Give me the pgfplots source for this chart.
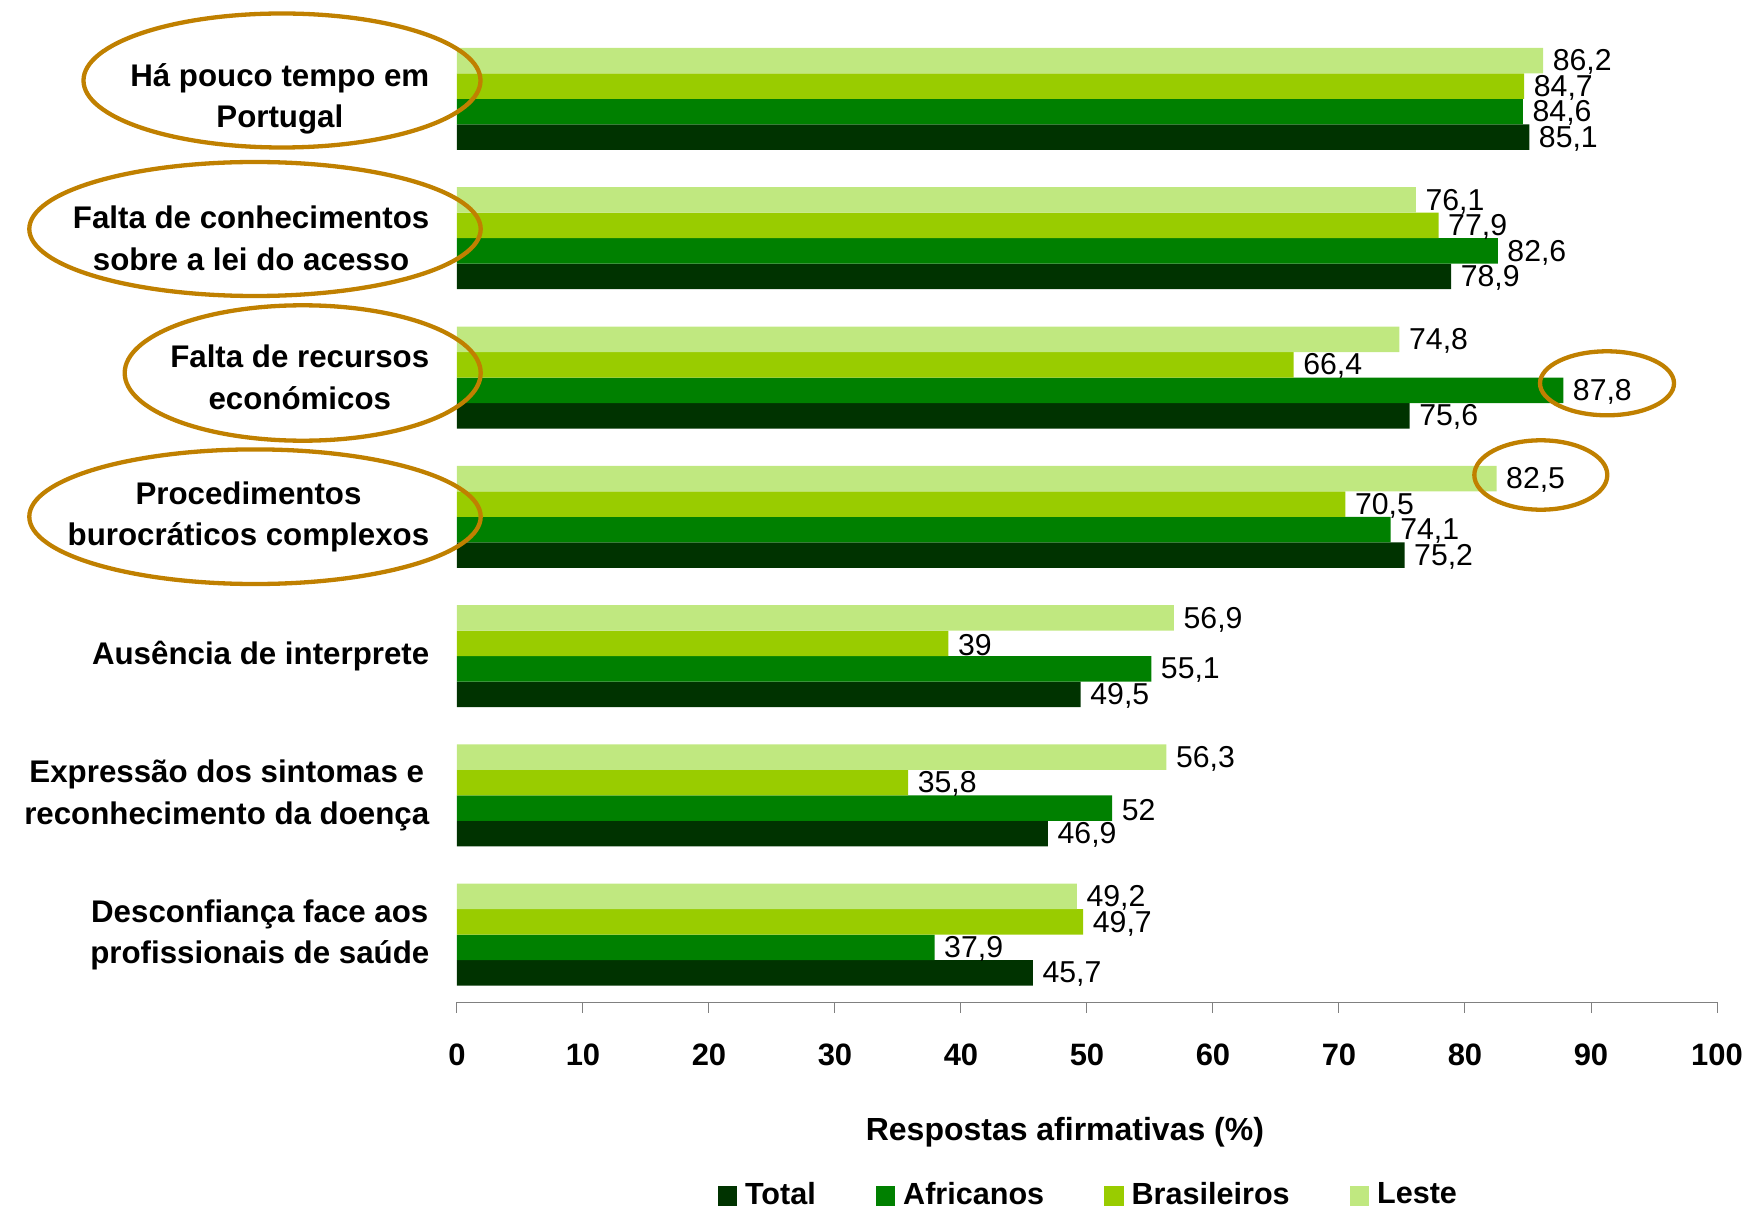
\documentclass[border=0pt]{standalone}
\usepackage{fontspec}
\setmainfont{Liberation Sans}
\usepackage{pgfplots}
\usepackage{pgfplotstable}
\pgfplotsset{compat=1.18}
\usetikzlibrary{calc}

\definecolor{cTotal}{RGB}{0,51,0}
\definecolor{cAfr}{RGB}{0,128,0}
\definecolor{cBra}{RGB}{153,204,0}
\definecolor{cLeste}{RGB}{192,232,128}
\definecolor{cRing}{RGB}{192,128,0}
\definecolor{cAxis}{RGB}{128,128,128}

\newcommand\catfont{\fontsize{8.9}{11.8}\selectfont\bfseries}
\newcommand\ticfont{\fontsize{8.8}{10}\selectfont\bfseries}
\newcommand\valfont{\fontsize{8.6}{10}\selectfont}

% percentage of affirmative answers; cat 0 = bottom row, 6 = top row
\pgfplotstableread{
cat total afr  bra  leste
0   45.7  37.9 49.7 49.2
1   46.9  52   35.8 56.3
2   49.5  55.1 39   56.9
3   75.2  74.1 70.5 82.5
4   75.6  87.8 66.4 74.8
5   78.9  82.6 77.9 76.1
6   85.1  84.6 84.7 86.2
}\datatable

\begin{document}
\begin{tikzpicture}
\begin{axis}[
  x=1.26mm, y=13.93mm,
  xmin=0, xmax=100, ymin=-0.485, ymax=6.55,
  enlargelimits=false,
  clip=false,
  /pgf/number format/assume math mode=true,
  xbar, bar width=2.55mm,
  axis lines*=left,
  x axis line style={cAxis, line width=0.14mm},
  y axis line style={draw=none},
  xtick={0,10,...,100},
  ytick={0,...,6},
  yticklabels={
    {Desconfiança face aos\\profissionais de saúde},
    {Expressão dos sintomas e\\reconhecimento da doença},
    {Ausência de interprete},
    {Procedimentos\\burocráticos complexos},
    {Falta de recursos\\económicos},
    {Falta de conhecimentos\\sobre a lei do acesso},
    {Há pouco tempo em\\Portugal}},
  ytick style={draw=none},
  xtick style={cAxis, line width=0.1mm},
  tick align=outside, major tick length=1.05mm,
  xticklabel style={font=\ticfont, anchor=north, inner sep=0pt},
  xticklabel shift=3.05mm,
  yticklabel style={font=\catfont, align=center, anchor=east, inner sep=0pt},
  yticklabel shift=1.65mm,
  xlabel={\fontsize{9.1}{10}\selectfont\bfseries Respostas afirmativas (\%)},
  xlabel style={at={(rel axis cs:0.4825,0)}, anchor=center, yshift=-12.97mm},
  nodes near coords,
  every node near coord/.append style={font=\valfont, anchor=west, inner sep=0pt, xshift=0.9mm, yshift=-0.15mm,
    /pgf/number format/.cd, use comma, fixed, precision=1, assume math mode=true},
  legend columns=4,
  legend style={at={(rel axis cs:0.2063,0)}, anchor=west, yshift=-19.37mm,
    draw=none, fill=none, inner sep=0pt, font=\fontsize{8.7}{10}\selectfont\bfseries,
    nodes={inner sep=0pt},
    /tikz/every odd column/.append style={column sep=0.8mm},
    /tikz/every even column/.append style={column sep=6.0mm}},
  legend image code/.code={\fill[#1] (0mm,-0.97mm) rectangle (1.94mm,0.97mm);},
]
\addplot[fill=cTotal, draw=none, bar shift=-3.825mm] table[x=total, y=cat] {\datatable};
\addplot[fill=cAfr,   draw=none, bar shift=-1.275mm] table[x=afr,   y=cat] {\datatable};
\addplot[fill=cBra,   draw=none, bar shift=1.275mm]  table[x=bra,   y=cat] {\datatable};
\addplot[fill=cLeste, draw=none, bar shift=3.825mm]  table[x=leste, y=cat] {\datatable};
\legend{Total, Africanos, Brasileiros, Leste}
\coordinate (O) at (axis cs:0,-0.485);
\end{axis}

% page frame and highlight rings, in 0.1 mm steps from the top-left corner
\coordinate (TL) at ($(O)+(-45.7mm,100.23mm)$);
\begin{scope}[shift={(TL)}, x=0.1mm, y=-0.1mm, cRing, line width=0.43mm]
  \draw (282,80.5)    ellipse [x radius=19.85mm, y radius=6.7mm];
  \draw (255,229)     ellipse [x radius=22.57mm, y radius=6.7mm];
  \draw (302.7,373)   ellipse [x radius=17.8mm,  y radius=6.77mm];
  \draw (255,516.7)   ellipse [x radius=22.57mm, y radius=6.73mm];
  \draw (1607,383.3)  ellipse [x radius=6.7mm,   y radius=3.2mm];
  \draw (1540.8,475)  ellipse [x radius=6.65mm,  y radius=3.47mm];
\end{scope}
\pgfresetboundingbox
\path ($(O)+(-45.7mm,100.23mm)$) rectangle ($(O)+(129.2mm,-20.67mm)$);
\end{tikzpicture}
\end{document}
